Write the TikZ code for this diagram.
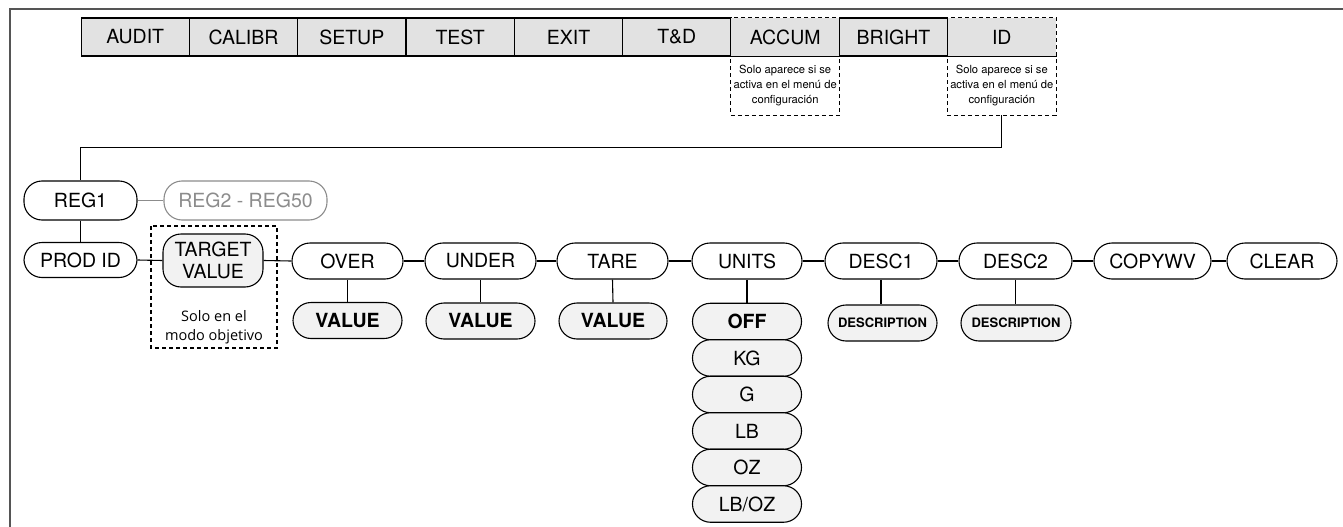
\documentclass[tikz,border=0pt]{standalone}
\usepackage{fontspec}
\setmainfont{TeX Gyre Heros}
\newfontfamily\notefont{Open Sans}
\definecolor{barfill}{HTML}{E2E2E2}
\definecolor{valfill}{HTML}{F2F2F2}
\definecolor{framecol}{HTML}{555555}
\definecolor{faint}{HTML}{8C8C8C}
\begin{document}
\begin{tikzpicture}[x=1pt,y=-1pt,
  cell/.style={draw, fill=barfill, line width=1.1pt, minimum width=108.3pt, minimum height=38pt, inner sep=0pt, font=\fontsize{19.5}{20}\selectfont},
  cellnd/.style={cell, draw=none},
  pill/.style={draw, line width=1.1pt, rounded corners=18pt, fill=white, inner sep=0pt, minimum height=36pt, font=\fontsize{19.5}{22}\selectfont},
  valpill/.style={pill, fill=valfill, font=\fontsize{19.5}{22}\selectfont\bfseries},
  unitpill/.style={pill, fill=valfill, minimum width=109pt, minimum height=36.5pt},
  descpill/.style={pill, fill=valfill, font=\fontsize{13}{15}\selectfont\bfseries},
  conn/.style={line width=1.1pt},
  dashbox/.style={line width=1.1pt, dash pattern=on 4pt off 3pt},
  note/.style={inner sep=0pt, align=center, font=\fontsize{11.2}{15}\selectfont},
  tnote/.style={inner sep=0pt, align=center, font=\notefont\fontsize{14.5}{19}\selectfont}
]
\useasboundingbox (0,0) rectangle (1343,527);
\draw[framecol, line width=2pt] (10,527) -- (10,9) -- (1343,9);

% top menu bar
\node[cell]   (audit)  at (135.2,37) {AUDIT};
\node[cell]   (calibr) at (243.5,37) {CALIBR};
\node[cell]   (setup)  at (351.8,37) {SETUP};
\node[cell]   (test)   at (460.2,37) {TEST};
\node[cell]   (exit)   at (568.5,37) {EXIT};
\node[cell]   (td)     at (676.8,37) {T\&D};
\node[cellnd] (accum)  at (785.2,37) {ACCUM};
\node[cell]   (bright) at (893.5,37) {BRIGHT};
\node[cellnd] (id)     at (1001.8,37) {ID};
\draw[line width=1.1pt] (accum.south west) -- (accum.south east);
\draw[line width=1.1pt] (id.south west) -- (id.south east);

\node[note, minimum width=108.3pt, minimum height=59pt] (accumnote) at (785.2,85.5) {Solo aparece si se\\activa en el menú de\\configuración};
\node[note, minimum width=108.3pt, minimum height=59pt] (idnote) at (1001.8,85.5) {Solo aparece si se\\activa en el menú de\\configuración};
\draw[dashbox] (accum.north west) rectangle (accumnote.south east);
\draw[dashbox] (id.north west) rectangle (idnote.south east);

% register level
\node[pill, minimum width=113pt, minimum height=39pt] (reg1) at (80.5,200.5) {REG1};
\node[pill, draw=faint, text=faint, minimum width=163pt, minimum height=39pt] (reg2) at (245.5,200.5) {REG2 - REG50};
\draw[conn] (idnote.south) -- ++(0,32) -| (reg1.north);
\draw[conn, faint] (reg1.east) -- (reg2.west);

% parameter row
\node[pill, minimum width=113pt, minimum height=35pt] (prodid) at (80.5,260) {PROD ID};
\node[pill, fill=valfill, minimum width=100pt, minimum height=53pt, align=center] (target) at (213,260.5) {TARGET\\VALUE};
\node[pill, minimum width=111pt] (over)   at (347.5,261) {OVER};
\node[pill, minimum width=111pt] (under)  at (480.5,261) {UNDER};
\node[pill, minimum width=111pt] (tare)   at (612.5,261) {TARE};
\node[pill, minimum width=110pt] (units)  at (747,261) {UNITS};
\node[pill, minimum width=112pt] (desc1)  at (881,261) {DESC1};
\node[pill, minimum width=113pt] (desc2)  at (1015.5,261) {DESC2};
\node[pill, minimum width=117pt] (copywv) at (1152.5,261) {COPYWV};
\node[pill, minimum width=110pt] (clear)  at (1282,261) {CLEAR};

\node[tnote] (tnotetext) at (214,327) {Solo en el\\modo objetivo};
\draw[dashbox] (151,226) rectangle (277,348);

\draw[conn] (reg1.south) -- (prodid.north);
\draw[conn] (prodid.east) -- (target.west);
\draw[conn] (target.east) -- (over.west);
\draw[conn] (over.east) -- (under.west);
\draw[conn] (under.east) -- (tare.west);
\draw[conn] (tare.east) -- (units.west);
\draw[conn] (units.east) -- (desc1.west);
\draw[conn] (desc1.east) -- (desc2.west);
\draw[conn] (desc2.east) -- (copywv.west);
\draw[conn] (copywv.east) -- (clear.west);

% values
\node[valpill, minimum width=109pt] (overval)  at (347.5,320.5) {VALUE};
\node[valpill, minimum width=109pt] (underval) at (480.5,321) {VALUE};
\node[valpill, minimum width=108pt] (tareval)  at (613,321) {VALUE};
\draw[conn] (over.south) -- (overval.north);
\draw[conn] (under.south) -- (underval.north);
\draw[conn] (tare.south) -- (tareval.north);

% units list
\node[unitpill, font=\fontsize{19.5}{22}\selectfont\bfseries] (off) at (747,321.5) {OFF};
\node[unitpill] (kg)   at (747,358) {KG};
\node[unitpill] (g)    at (747,394.5) {G};
\node[unitpill] (lb)   at (747,431) {LB};
\node[unitpill] (oz)   at (747,467.5) {OZ};
\node[unitpill] (lboz) at (747,504) {LB/OZ};
\draw[conn] (units.south) -- (off.north);

% descriptions
\node[descpill, minimum width=109pt] (desc1val) at (882.5,323) {DESCRIPTION};
\node[descpill, minimum width=110pt] (desc2val) at (1016,323) {DESCRIPTION};
\draw[conn] (desc1.south) -- (desc1.south |- desc1val.north);
\draw[conn] (desc2.south) -- (desc2.south |- desc2val.north);
\end{tikzpicture}
\end{document}
